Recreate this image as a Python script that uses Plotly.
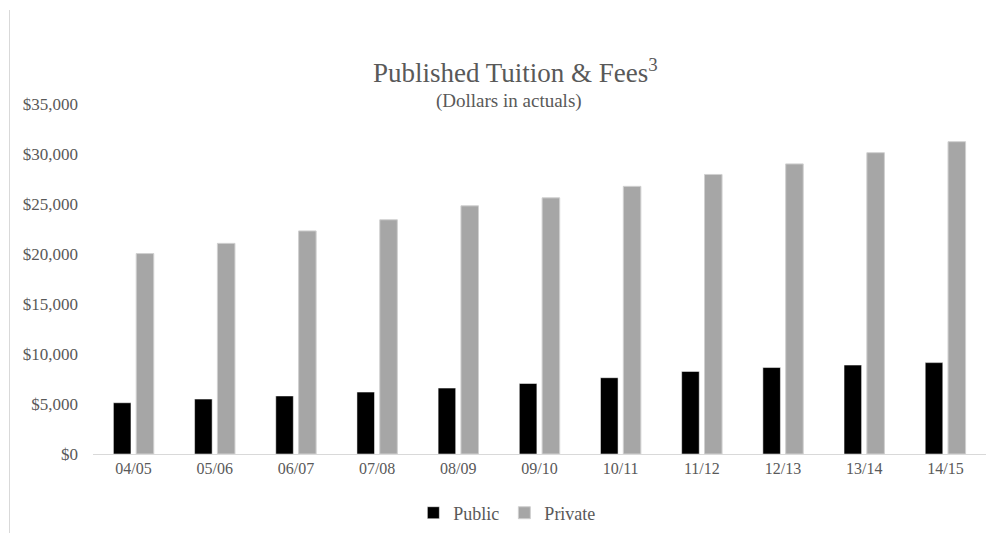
import plotly.graph_objects as go

years = ["04/05", "05/06", "06/07", "07/08", "08/09", "09/10", "10/11", "11/12", "12/13", "13/14", "14/15"]
public = [5126, 5492, 5804, 6191, 6591, 7050, 7629, 8256, 8646, 8893, 9139]
private = [20045, 21063, 22308, 23424, 24818, 25617, 26765, 27955, 29010, 30131, 31231]
y_ticks = [0, 5000, 10000, 15000, 20000, 25000, 30000, 35000]
y_tick_labels = ["$0", "$5,000", "$10,000", "$15,000", "$20,000", "$25,000", "$30,000", "$35,000"]

FONT = "Liberation Serif"
TXT = "#595959"

fig = go.Figure()
fig.add_trace(go.Bar(x=years, y=public, name="Public",
                     marker=dict(color="#000000", line=dict(color="#ffffff", width=0.5))))
fig.add_trace(go.Bar(x=years, y=private, name="Private",
                     marker=dict(color="#a6a6a6", line=dict(color="#d0d0d0", width=1))))

fig.update_layout(
    width=995, height=533,
    margin=dict(l=93, r=9, t=104, b=79),
    paper_bgcolor="white", plot_bgcolor="white",
    font=dict(family=FONT, color=TXT, size=16),
    barmode="group", bargap=0.438, bargroupgap=0.23,
    showlegend=True,
    legend=dict(orientation="h", x=0.464, y=0.0375, xref="paper", yref="container",
                xanchor="center", yanchor="middle",
                font=dict(family=FONT, size=18, color=TXT), itemwidth=30,
                traceorder="normal"),
    xaxis=dict(showgrid=False, showline=True, linecolor="#d9d9d9", linewidth=1,
               ticks="", automargin=False, tickfont=dict(family=FONT, size=16, color=TXT)),
    yaxis=dict(range=[0, 35000], tickvals=y_ticks, ticktext=y_tick_labels,
               showgrid=False, showline=False, zeroline=False, ticks="",
               ticklabelstandoff=14, automargin=False,
               tickfont=dict(family=FONT, size=17, color=TXT)),
    annotations=[
        dict(text="Published Tuition &amp; Fees<sup>3</sup>", x=0.473, y=1.093,
             xref="paper", yref="paper", xanchor="center", yanchor="middle",
             showarrow=False, font=dict(family=FONT, size=27, color=TXT)),
        dict(text="(Dollars in actuals)", x=0.466, y=1.009, xref="paper", yref="paper",
             xanchor="center", yanchor="middle", showarrow=False,
             font=dict(family=FONT, size=19, color=TXT)),
    ],
    shapes=[dict(type="line", xref="paper", yref="paper", x0=-0.0935, x1=-0.0935,
                 y0=1.2686, y1=-0.2257, line=dict(color="#d9d9d9", width=1))],
)

fig.write_html(
    "out.html",
    config={"displayModeBar": False},
    post_script="document.body.style.margin='0';document.body.style.overflow='hidden';",
)
